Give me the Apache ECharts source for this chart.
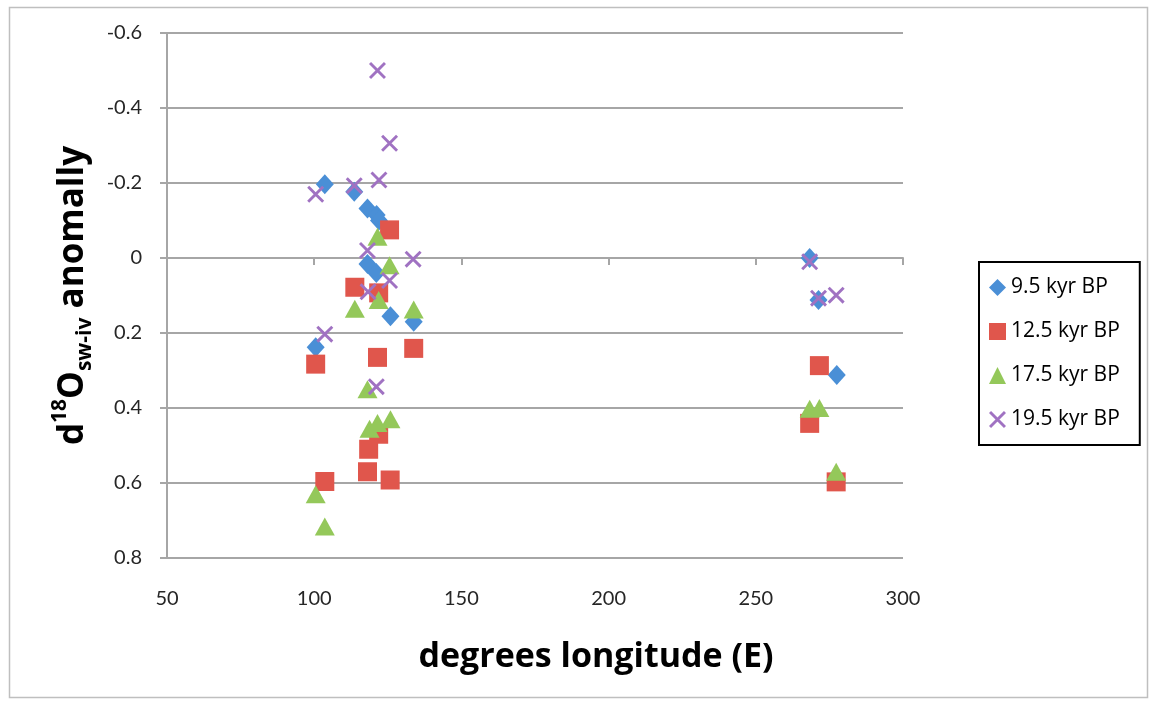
<!DOCTYPE html>
<html>
<head>
<meta charset="utf-8">
<script src="https://cdn.jsdelivr.net/npm/echarts@6/dist/echarts.min.js"></script>
<style>
  html, body { margin: 0; padding: 0; background: #fff; }
  #chart { width: 1151px; height: 702px; }
</style>
</head>
<body>
<div id="chart"></div>
<script>
// [longitude, anomaly] pairs
const kyr95 = [
  [103.6, -0.197], [113.6, -0.177], [118.1, -0.132], [121.2, -0.115], [122.0, -0.1],
  [118.1, 0.016], [121.1, 0.04], [125.9, 0.155], [133.8, 0.17], [100.5, 0.238],
  [268.3, 0.0], [271.3, 0.112], [277.5, 0.312]
]
const kyr125 = [
  [125.6, -0.075], [113.8, 0.078], [121.9, 0.093], [121.5, 0.265], [133.8, 0.241],
  [100.5, 0.283], [121.9, 0.47], [118.5, 0.51], [118.1, 0.57], [125.8, 0.592],
  [103.6, 0.596], [271.6, 0.287], [268.3, 0.441], [277.3, 0.597]
]
const kyr175 = [
  [121.5, -0.057], [125.6, 0.019], [121.9, 0.112], [113.8, 0.135], [133.8, 0.137],
  [118.1, 0.35], [118.8, 0.455], [121.5, 0.44], [125.9, 0.43], [100.5, 0.63],
  [103.6, 0.716], [268.3, 0.402], [271.6, 0.4], [277.3, 0.57]
]
const kyr195 = [
  [121.5, -0.5], [125.6, -0.306], [122.0, -0.208], [113.6, -0.193], [100.5, -0.17],
  [118.1, -0.02], [133.6, 0.003], [125.6, 0.06], [118.3, 0.09], [103.6, 0.203],
  [121.1, 0.343], [268.3, 0.01], [271.3, 0.107], [277.3, 0.099]
]
const seriesNames = ['9.5 kyr BP', '12.5 kyr BP', '17.5 kyr BP', '19.5 kyr BP']

const tickFont = 'Lato, "Open Sans", sans-serif'
const titleFont = '"Open Sans", Lato, sans-serif'
const crossPath = 'path://M0,1.2 L1.2,0 L10,8.8 L8.8,10 Z M8.8,0 L10,1.2 L1.2,10 L0,8.8 Z'

const chart = echarts.init(document.getElementById('chart'))

function scatter(name, data, symbol, size, color) {
    return {
        name: name,
        type: 'scatter',
        data: data,
        symbol: symbol,
        symbolSize: size,
        itemStyle: { color: color, opacity: 1 },
        emphasis: { disabled: true }
    }
}

const option = {
    animation: false,
    backgroundColor: '#fff',
    textStyle: { fontFamily: tickFont },
    graphic: [{
        type: 'rect',
        left: 7,
        top: 5,
        shape: { width: 1138, height: 690 },
        style: { fill: 'none', stroke: '#bfbfbf', lineWidth: 1.5 },
        silent: true
    }],
    grid: {
        left: 167,
        right: 248,
        top: 33,
        bottom: 144
    },
    legend: {
        orient: 'vertical',
        left: 979,
        top: 262,
        padding: [14, 20, 14, 10],
        itemGap: 21,
        itemWidth: 17,
        itemHeight: 17,
        borderColor: '#000',
        borderWidth: 2,
        textStyle: { fontSize: 21, color: '#000', lineHeight: 23, fontFamily: titleFont },
        data: seriesNames
    },
    xAxis: {
        type: 'value',
        min: 50,
        max: 300,
        interval: 50,
        name: 'degrees longitude (E)',
        nameLocation: 'middle',
        nameGap: 82,
        nameTextStyle: {
            fontSize: 34,
            fontWeight: 'bold',
            color: '#000',
            fontFamily: titleFont,
            padding: [0, 0, 0, 122]
        },
        axisLine: { show: true, lineStyle: { color: '#a6a6a6', width: 2 } },
        axisTick: { show: true, length: 7, lineStyle: { color: '#a6a6a6', width: 2 } },
        axisLabel: { fontSize: 20, color: '#262626', margin: 31 },
        splitLine: { show: false }
    },
    yAxis: {
        type: 'value',
        inverse: true,
        min: -0.6,
        max: 0.8,
        interval: 0.2,
        name: '{b|d}{sup|18}{b|O}{sub|sw-iv}{b| anomally}',
        nameLocation: 'middle',
        nameGap: 33,
        nameRotate: 90,
        nameTextStyle: {
            color: '#000',
            fontFamily: titleFont,
            rich: {
                b: { fontSize: 35, fontWeight: 'bold', color: '#000', lineHeight: 46, fontFamily: titleFont },
                sup: { fontSize: 21, fontWeight: 'bold', color: '#000', lineHeight: 32, verticalAlign: 'top', fontFamily: titleFont },
                sub: { fontSize: 21, fontWeight: 'bold', color: '#000', lineHeight: 20, verticalAlign: 'bottom', fontFamily: titleFont }
            }
        },
        axisLine: { show: true, lineStyle: { color: '#a6a6a6', width: 2 } },
        axisTick: { show: true, length: 7, lineStyle: { color: '#a6a6a6', width: 2 } },
        axisLabel: {
            fontSize: 20,
            color: '#262626',
            margin: 25,
            formatter: v => String(+v.toFixed(1))
        },
        splitLine: { show: true, lineStyle: { color: '#a6a6a6', width: 2 } }
    },
    series: [
        scatter(seriesNames[0], kyr95, 'diamond', [18, 20], '#4a8fd6'),
        scatter(seriesNames[1], kyr125, 'rect', 19, '#e0564c'),
        scatter(seriesNames[2], kyr175, 'triangle', [20, 18], '#94c85a'),
        scatter(seriesNames[3], kyr195, crossPath, 17, '#a072c2')
    ]
}

chart.setOption(option)
</script>
</body>
</html>
